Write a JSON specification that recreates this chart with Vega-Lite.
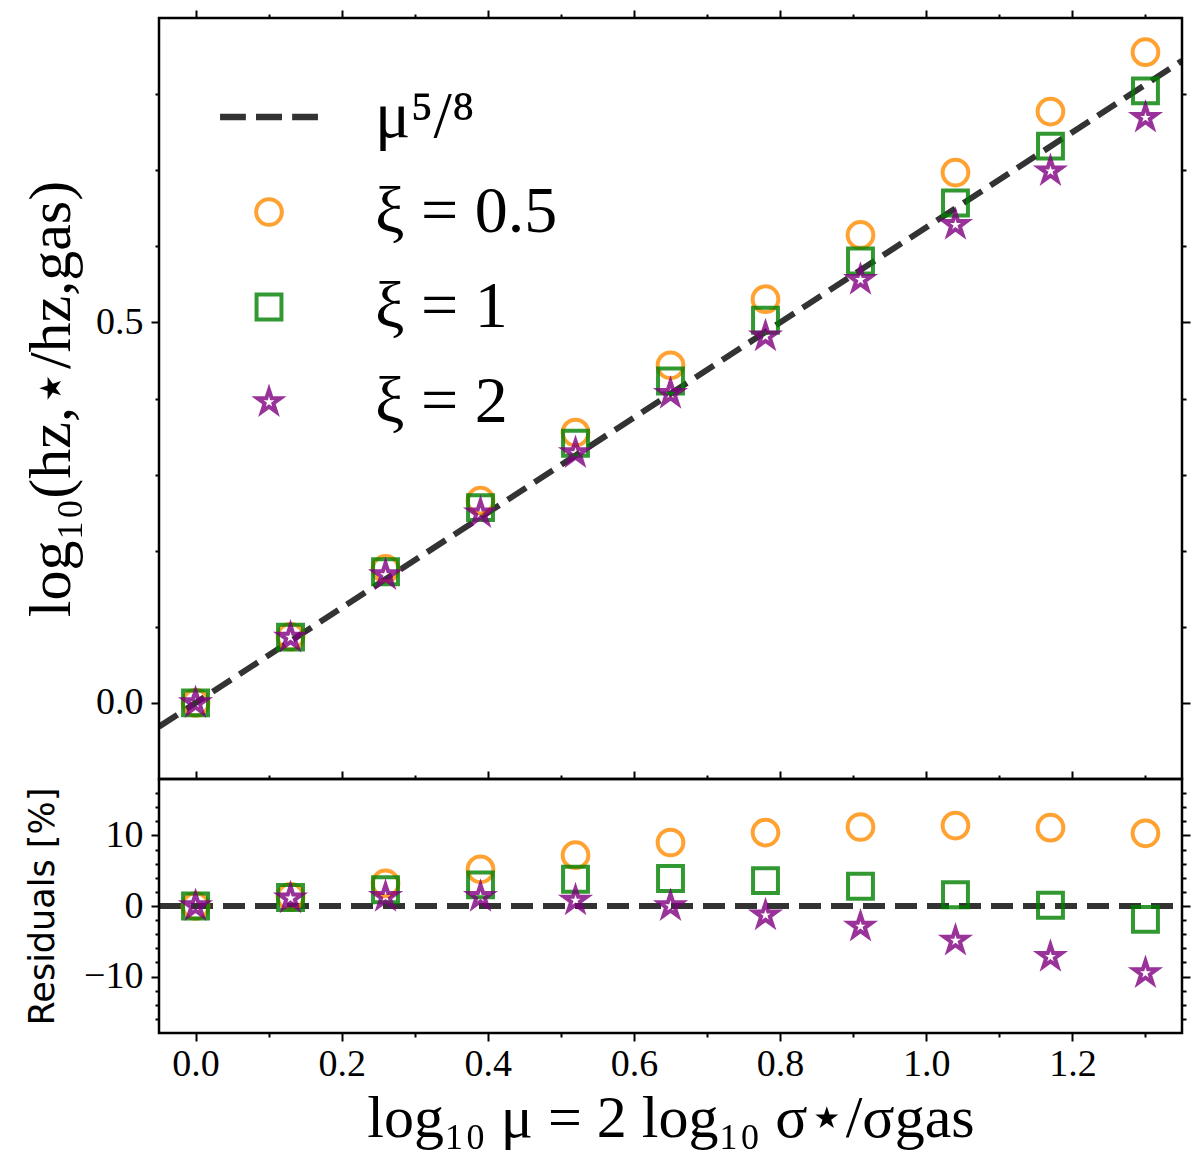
{
  "$schema": "https://vega.github.io/schema/vega-lite/v6.json",
  "background": "white",
  "padding": {"left": 19, "top": 7, "right": 10, "bottom": 10},
  "spacing": 0,
  "bounds": "flush",
  "config": {
    "view": {"stroke": "#000000", "strokeWidth": 2.5},
    "axis": {
      "domain": false,
      "grid": false,
      "tickColor": "#000000",
      "tickWidth": 2,
      "labelFont": "Liberation Serif",
      "labelFontSize": 38,
      "labelColor": "#000000",
      "titleColor": "#000000",
      "titleFontWeight": "normal",
      "labelOverlap": false,
      "labelBound": false,
      "labelFlush": false
    }
  },
  "datasets": {
    "fit": [
      {"x": -0.05, "logratio": -0.03125, "resid": 0},
      {"x": 1.35, "logratio": 0.84375, "resid": 0}
    ],
    "points": [
      {"series": "ξ = 0.5", "x": 0.0, "logratio": 0.0, "resid": 0.0},
      {"series": "ξ = 0.5", "x": 0.13, "logratio": 0.0869, "resid": 1.3},
      {"series": "ξ = 0.5", "x": 0.26, "logratio": 0.1762, "resid": 3.2},
      {"series": "ξ = 0.5", "x": 0.39, "logratio": 0.2658, "resid": 5.2},
      {"series": "ξ = 0.5", "x": 0.52, "logratio": 0.3552, "resid": 7.2},
      {"series": "ξ = 0.5", "x": 0.65, "logratio": 0.4437, "resid": 9.0},
      {"series": "ξ = 0.5", "x": 0.78, "logratio": 0.5305, "resid": 10.4},
      {"series": "ξ = 0.5", "x": 0.91, "logratio": 0.6149, "resid": 11.2},
      {"series": "ξ = 0.5", "x": 1.04, "logratio": 0.6969, "resid": 11.4},
      {"series": "ξ = 0.5", "x": 1.17, "logratio": 0.777, "resid": 11.1},
      {"series": "ξ = 0.5", "x": 1.3, "logratio": 0.8551, "resid": 10.3},
      {"series": "ξ = 1", "x": 0.0, "logratio": 0.0, "resid": 0.0},
      {"series": "ξ = 1", "x": 0.13, "logratio": 0.0864, "resid": 1.2},
      {"series": "ξ = 1", "x": 0.26, "logratio": 0.1724, "resid": 2.3},
      {"series": "ξ = 1", "x": 0.39, "logratio": 0.2566, "resid": 3.0},
      {"series": "ξ = 1", "x": 0.52, "logratio": 0.3412, "resid": 3.8},
      {"series": "ξ = 1", "x": 0.65, "logratio": 0.4229, "resid": 3.9},
      {"series": "ξ = 1", "x": 0.78, "logratio": 0.5029, "resid": 3.6},
      {"series": "ξ = 1", "x": 0.91, "logratio": 0.5807, "resid": 2.8},
      {"series": "ξ = 1", "x": 1.04, "logratio": 0.6569, "resid": 1.6},
      {"series": "ξ = 1", "x": 1.17, "logratio": 0.7317, "resid": 0.1},
      {"series": "ξ = 1", "x": 1.3, "logratio": 0.8042, "resid": -1.9},
      {"series": "ξ = 2", "x": 0.0, "logratio": 0.0, "resid": 0.0},
      {"series": "ξ = 2", "x": 0.13, "logratio": 0.086, "resid": 1.1},
      {"series": "ξ = 2", "x": 0.26, "logratio": 0.1681, "resid": 1.3},
      {"series": "ξ = 2", "x": 0.39, "logratio": 0.2494, "resid": 1.3},
      {"series": "ξ = 2", "x": 0.52, "logratio": 0.3285, "resid": 0.8},
      {"series": "ξ = 2", "x": 0.65, "logratio": 0.4063, "resid": 0.0},
      {"series": "ξ = 2", "x": 0.78, "logratio": 0.4818, "resid": -1.3},
      {"series": "ξ = 2", "x": 0.91, "logratio": 0.556, "resid": -2.9},
      {"series": "ξ = 2", "x": 1.04, "logratio": 0.6282, "resid": -4.9},
      {"series": "ξ = 2", "x": 1.17, "logratio": 0.6988, "resid": -7.2},
      {"series": "ξ = 2", "x": 1.3, "logratio": 0.7691, "resid": -9.5}
    ]
  },
  "vconcat": [
    {
      "width": 1023,
      "height": 761,
      "layer": [
        {
          "data": {"name": "fit"},
          "mark": {"type": "line", "color": "#000000", "opacity": 0.8, "strokeWidth": 6, "strokeDash": [22, 10], "clip": true},
          "encoding": {
            "x": {
              "field": "x", "type": "quantitative",
              "scale": {"domain": [-0.05, 1.35], "nice": false, "zero": false},
              "axis": {
                "orient": "top", "title": null, "labels": false,
                "values": [0, 0.1, 0.2, 0.3, 0.4, 0.5, 0.6, 0.7, 0.8, 0.9, 1.0, 1.1, 1.2, 1.3],
                "tickSize": {"condition": {"test": "abs(datum.value*5 - round(datum.value*5)) < 0.001", "value": 8}, "value": 4}
              }
            },
            "y": {
              "field": "logratio", "type": "quantitative",
              "scale": {"domain": [-0.1, 0.9], "nice": false, "zero": false},
              "axis": {
                "orient": "left",
                "values": [0, 0.1, 0.2, 0.3, 0.4, 0.5, 0.6, 0.7, 0.8],
                "tickSize": {"condition": {"test": "abs(datum.value*2 - round(datum.value*2)) < 0.001", "value": 8}, "value": 4},
                "labelExpr": "abs(datum.value*2 - round(datum.value*2)) < 0.001 ? format(datum.value, '.1f') : ''",
                "labelPadding": 8,
                "title": "log₁₀(hz,⋆/hz,gas)",
                "titleFont": "Liberation Serif",
                "titleFontSize": 60,
                "titleX": -108,
                "titleBaseline": "middle"
              }
            }
          }
        },
        {
          "data": {"name": "points"},
          "mark": {"type": "point", "filled": false, "strokeWidth": 4, "opacity": 0.8},
          "encoding": {
            "x": {"field": "x", "type": "quantitative", "axis": null},
            "y": {
              "field": "logratio", "type": "quantitative",
              "axis": {
                "orient": "right", "title": null, "labels": false,
                "values": [0, 0.1, 0.2, 0.3, 0.4, 0.5, 0.6, 0.7, 0.8],
                "tickSize": {"condition": {"test": "abs(datum.value*2 - round(datum.value*2)) < 0.001", "value": 8}, "value": 4}
              }
            },
            "color": {
              "field": "series", "type": "nominal",
              "scale": {"domain": ["μ⁵/⁸", "ξ = 0.5", "ξ = 1", "ξ = 2"], "range": ["#000000", "darkorange", "green", "purple"]},
              "legend": {
                "title": null, "orient": "none", "legendX": 77, "legendY": 66, "padding": 0,
                "labelFont": "Liberation Serif", "labelFontSize": 66, "labelLimit": 400, "labelOffset": 73,
                "rowPadding": 29, "symbolStrokeWidth": 4, "labelColor": "#000000"
              }
            },
            "shape": {
              "field": "series", "type": "nominal",
              "scale": {
                "domain": ["μ⁵/⁸", "ξ = 0.5", "ξ = 1", "ξ = 2"],
                "range": [
                  "M-3.55,-0.1H-1.9V0.1H-3.55Z M-0.83,-0.1H0.83V0.1H-0.83Z M1.9,-0.1H3.55V0.1H1.9Z",
                  "circle",
                  "square",
                  "M0,-1L0.2245,-0.309L0.951,-0.309L0.363,0.118L0.588,0.809L0,0.382L-0.588,0.809L-0.363,0.118L-0.951,-0.309L-0.2245,-0.309Z"
                ]
              },
              "legend": {
                "title": null, "orient": "none", "legendX": 77, "legendY": 66, "padding": 0,
                "labelFont": "Liberation Serif", "labelFontSize": 66, "labelLimit": 400, "labelOffset": 73,
                "rowPadding": 29, "symbolStrokeWidth": 4, "labelColor": "#000000"
              }
            },
            "size": {
              "field": "series", "type": "nominal",
              "scale": {"domain": ["μ⁵/⁸", "ξ = 0.5", "ξ = 1", "ξ = 2"], "range": [700, 580, 730, 540]},
              "legend": {
                "title": null, "orient": "none", "legendX": 77, "legendY": 66, "padding": 0,
                "labelFont": "Liberation Serif", "labelFontSize": 66, "labelLimit": 400, "labelOffset": 73,
                "rowPadding": 29, "symbolStrokeWidth": 4, "labelColor": "#000000"
              }
            }
          }
        }
      ],
      "resolve": {"axis": {"x": "independent", "y": "independent"}}
    },
    {
      "width": 1023,
      "height": 254,
      "layer": [
        {
          "data": {"name": "fit"},
          "mark": {"type": "line", "color": "#000000", "opacity": 0.8, "strokeWidth": 6, "strokeDash": [22, 10], "clip": true},
          "encoding": {
            "x": {
              "field": "x", "type": "quantitative",
              "scale": {"domain": [-0.05, 1.35], "nice": false, "zero": false},
              "axis": {
                "orient": "bottom",
                "values": [0, 0.1, 0.2, 0.3, 0.4, 0.5, 0.6, 0.7, 0.8, 0.9, 1.0, 1.1, 1.2, 1.3],
                "tickSize": {"condition": {"test": "abs(datum.value*5 - round(datum.value*5)) < 0.001", "value": 8}, "value": 4},
                "labelExpr": "abs(datum.value*5 - round(datum.value*5)) < 0.001 ? format(datum.value, '.1f') : ''",
                "labelPadding": 4,
                "title": "log₁₀ μ = 2 log₁₀ σ⋆/σgas",
                "titleFont": "Liberation Serif",
                "titleFontSize": 60,
                "titlePadding": 6
              }
            },
            "y": {
              "field": "resid", "type": "quantitative",
              "scale": {"domain": [-18, 18], "nice": false, "zero": false},
              "axis": {
                "orient": "left",
                "values": [-16, -14, -12, -10, -8, -6, -4, -2, 0, 2, 4, 6, 8, 10, 12, 14, 16],
                "tickSize": {"condition": {"test": "abs(datum.value/10 - round(datum.value/10)) < 0.001", "value": 8}, "value": 4},
                "labelExpr": "abs(datum.value/10 - round(datum.value/10)) < 0.001 ? format(datum.value, 'd') : ''",
                "labelPadding": 8,
                "title": "Residuals [%]",
                "titleFont": "DejaVu Sans",
                "titleFontSize": 35,
                "titleX": -117,
                "titleBaseline": "middle"
              }
            }
          }
        },
        {
          "data": {"name": "points"},
          "mark": {"type": "point", "filled": false, "strokeWidth": 4, "opacity": 0.8},
          "encoding": {
            "x": {
              "field": "x", "type": "quantitative",
              "axis": {
                "orient": "top", "title": null, "labels": false,
                "values": [0, 0.1, 0.2, 0.3, 0.4, 0.5, 0.6, 0.7, 0.8, 0.9, 1.0, 1.1, 1.2, 1.3],
                "tickSize": {"condition": {"test": "abs(datum.value*5 - round(datum.value*5)) < 0.001", "value": 8}, "value": 4}
              }
            },
            "y": {
              "field": "resid", "type": "quantitative",
              "axis": {
                "orient": "right", "title": null, "labels": false,
                "values": [-16, -14, -12, -10, -8, -6, -4, -2, 0, 2, 4, 6, 8, 10, 12, 14, 16],
                "tickSize": {"condition": {"test": "abs(datum.value/10 - round(datum.value/10)) < 0.001", "value": 8}, "value": 4}
              }
            },
            "color": {"field": "series", "type": "nominal"},
            "shape": {"field": "series", "type": "nominal"},
            "size": {"field": "series", "type": "nominal"}
          }
        }
      ],
      "resolve": {"axis": {"x": "independent", "y": "independent"}}
    }
  ]
}
